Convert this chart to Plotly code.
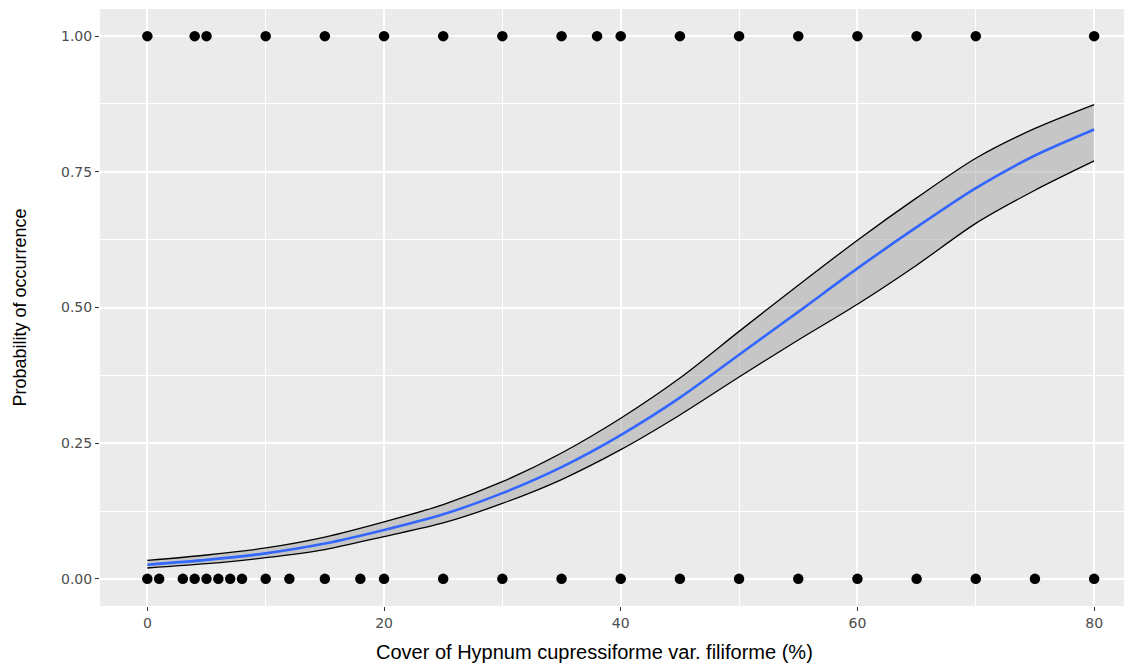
import plotly.graph_objects as go

# observed presence (1) / absence (0) by cover value
present_x = [0, 4, 5, 10, 15, 20, 25, 30, 35, 38, 40, 45, 50, 55, 60, 65, 70, 80]
absent_x = [0, 1, 3, 4, 5, 6, 7, 8, 10, 12, 15, 18, 20, 25, 30, 35, 40, 45,
            50, 55, 60, 65, 70, 75, 80]

# fitted logistic curve with confidence band
curve_x = [0, 5, 10, 15, 20, 25, 30, 35, 40, 45, 50, 55, 60, 65, 70, 75, 80]
fit_p = [0.026, 0.035, 0.047, 0.065, 0.090, 0.119, 0.158, 0.206, 0.265,
         0.334, 0.413, 0.492, 0.572, 0.648, 0.720, 0.780, 0.828]
upper_p = [0.034, 0.044, 0.057, 0.077, 0.105, 0.137, 0.179, 0.232, 0.296,
           0.370, 0.456, 0.541, 0.624, 0.702, 0.775, 0.830, 0.874]
lower_p = [0.020, 0.028, 0.039, 0.054, 0.078, 0.103, 0.139, 0.183, 0.238,
           0.302, 0.372, 0.440, 0.506, 0.578, 0.655, 0.716, 0.770]

y_ticks = [0, 0.25, 0.5, 0.75, 1.0]
x_ticks = [0, 20, 40, 60, 80]

FONT = 'Liberation Sans, Arial, sans-serif'
TICK_FONT = dict(family='DejaVu Sans, sans-serif', size=14, color='#4D4D4D')

fig = go.Figure()

fig.add_trace(go.Scatter(
    x=curve_x, y=lower_p, mode='lines',
    line=dict(color='black', width=1.3, shape='spline', smoothing=0.8),
    showlegend=False, hoverinfo='skip',
))
fig.add_trace(go.Scatter(
    x=curve_x, y=upper_p, mode='lines',
    line=dict(color='black', width=1.3, shape='spline', smoothing=0.8),
    fill='tonexty', fillcolor='rgba(153,153,153,0.45)',
    showlegend=False, hoverinfo='skip',
))
fig.add_trace(go.Scatter(
    x=curve_x, y=fit_p, mode='lines',
    line=dict(color='#3366FF', width=2.6, shape='spline', smoothing=0.8),
    showlegend=False,
))
fig.add_trace(go.Scatter(
    x=present_x, y=[1] * len(present_x), mode='markers',
    marker=dict(color='black', size=10.5),
    showlegend=False,
))
fig.add_trace(go.Scatter(
    x=absent_x, y=[0] * len(absent_x), mode='markers',
    marker=dict(color='black', size=10.5),
    showlegend=False,
))

# page body adds an 8px offset, so the figure is 8px smaller and margins shifted
fig.update_layout(
    width=1124, height=656,
    paper_bgcolor='white',
    plot_bgcolor='#EBEBEB',
    margin=dict(l=92, r=0, t=1, b=58),
    font=dict(family=FONT, color='black'),
    annotations=[dict(
        text='Cover of Hypnum cupressiforme var. filiforme (%)',
        xref='paper', yref='paper', x=0.479, y=0,
        xanchor='center', yanchor='middle', yshift=-46,
        showarrow=False, font=dict(size=20, color='black'),
    )],
)
fig.update_xaxes(
    range=[-4, 83.2],
    tickvals=x_ticks,
    ticks='outside', ticklen=4, tickcolor='#333333',
    tickfont=TICK_FONT,
    showgrid=True, gridcolor='white', gridwidth=1.6,
    minor=dict(dtick=10, tick0=0, showgrid=True, gridcolor='white', gridwidth=0.8),
    zeroline=False, showline=False,
)
fig.update_yaxes(
    range=[-0.05, 1.05],
    tickvals=y_ticks, tickformat='.2f',
    ticks='outside', ticklen=4, tickcolor='#333333',
    tickfont=TICK_FONT,
    showgrid=True, gridcolor='white', gridwidth=1.6,
    minor=dict(dtick=0.125, tick0=0, showgrid=True, gridcolor='white', gridwidth=0.8),
    zeroline=False, showline=False,
    title=dict(text='Probability of occurrence',
               font=dict(size=18, color='black'), standoff=29),
)

fig.write_html('out.html')
